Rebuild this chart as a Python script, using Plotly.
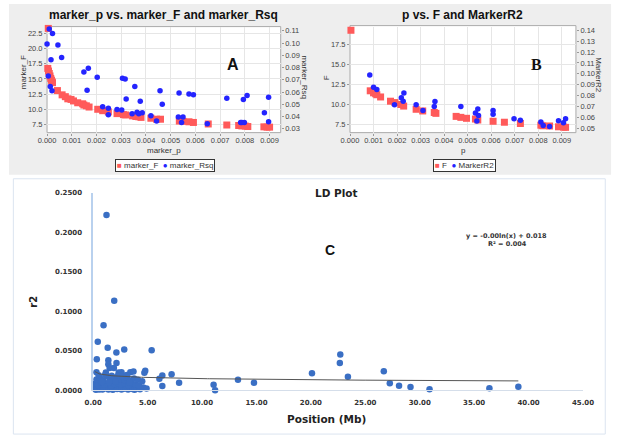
import plotly.graph_objects as go
import numpy as np

W, H = 624, 442


def fx(x):
    return x / W


def fy(y):
    return 1 - y / H


# ---------------- Panel A data ----------------
A_F_P = [0.00005, 0.00003, 0.00006, 0.00009, 0.00012, 0.00015, 0.00018, 0.0002, 0.00022,
         0.00042, 0.00061, 0.00074, 0.00084, 0.00097, 0.00107, 0.00124, 0.00144, 0.00149,
         0.00159, 0.0017, 0.00205, 0.00225, 0.00248, 0.00283, 0.00309, 0.00318, 0.00346,
         0.00359, 0.00371, 0.0038, 0.0042, 0.00443, 0.00459, 0.00535, 0.0055, 0.00574,
         0.00592, 0.00652, 0.00727, 0.00775, 0.00788, 0.00802, 0.00812, 0.00877, 0.0089, 0.009]
A_F = [23.3, 16.74, 16.3, 15.9, 15.5, 15.1, 14.8, 14.55, 14.4,
       13.1, 12.4, 12.1, 11.75, 11.65, 11.4, 11.1, 10.93, 10.73,
       10.6, 10.4, 10.03, 9.8, 9.6, 9.32, 9.16, 9.1, 8.95,
       8.85, 8.8, 8.7, 8.56, 8.4, 8.4, 8.1, 8.05, 7.98,
       7.87, 7.62, 7.45, 7.37, 7.3, 7.27, 7.2, 7.15, 7.1, 7.1]
A_R_P = [0.0, 0.00009, 0.00022, 0.00016, 0.00044, 0.00059, 0.00013, 0.0002, 0.00005,
         0.00149, 0.00167, 0.00162, 0.00203, 0.00305, 0.00316, 0.00355, 0.0032, 0.00377,
         0.00225, 0.00248, 0.00248, 0.00283, 0.00302, 0.00344, 0.00364, 0.00371, 0.00385,
         0.0042, 0.00443, 0.00457, 0.00466, 0.00534, 0.00531, 0.0055, 0.00544, 0.00574,
         0.00592, 0.00648, 0.00727, 0.00783, 0.00788, 0.00798, 0.00794, 0.00809, 0.00879,
         0.00896, 0.00896]
A_RSQ = [0.0992, 0.1116, 0.1078, 0.0864, 0.0984, 0.0883, 0.0645, 0.061, 0.0731,
         0.0763, 0.0795, 0.0615, 0.072, 0.0712, 0.0707, 0.0645, 0.0543, 0.0525,
         0.0479, 0.0468, 0.0415, 0.0458, 0.0453, 0.0423, 0.0435, 0.0423, 0.043,
         0.0406, 0.0364, 0.061, 0.05, 0.0591, 0.0396, 0.0396, 0.0351, 0.0583,
         0.0578, 0.034, 0.0549, 0.0351, 0.035, 0.035, 0.0538, 0.0571, 0.0431,
         0.0557, 0.0356]

# ---------------- Panel B data ----------------
B_F_P = [0.00004, 0.00086, 0.001, 0.00109, 0.00114, 0.0013, 0.00172, 0.00191, 0.00216,
         0.00228, 0.00281, 0.00309, 0.00358, 0.00365, 0.00451, 0.00471, 0.00495, 0.00533,
         0.00543, 0.00608, 0.00656, 0.00724, 0.00811, 0.00819, 0.00848, 0.00886, 0.00907,
         0.00916]
B_F = [19.24, 11.67, 11.42, 11.3, 11.18, 10.9, 10.37, 10.2, 9.96,
       9.76, 9.36, 9.15, 8.96, 8.85, 8.47, 8.35, 8.23, 8.14,
       8.02, 7.86, 7.74, 7.58, 7.37, 7.3, 7.27, 7.17, 7.13,
       7.1]
B_R_P = [0.00084, 0.001, 0.00114, 0.00218, 0.00226, 0.00229, 0.00189, 0.00281, 0.00361,
         0.00358, 0.0031, 0.00471, 0.00533, 0.00543, 0.00546, 0.00539, 0.00608, 0.00608,
         0.00697, 0.00724, 0.00811, 0.00821, 0.00848, 0.00886, 0.00907, 0.00916]
B_R2 = [0.099, 0.0878, 0.0856, 0.0782, 0.0749, 0.0824, 0.0717, 0.0717, 0.0747,
        0.0702, 0.0664, 0.0702, 0.0642, 0.0678, 0.0619, 0.0568, 0.0664, 0.063,
        0.0589, 0.0575, 0.056, 0.0527, 0.0518, 0.0571, 0.0553, 0.059]

# ---------------- Panel C data ----------------
C_POS = [1.22, 1.93, 0.95, 0.42, 1.33, 2.85, 2.13, 5.37, 0.33, 1.39, 2.14, 1.39, 1.51, 1.9,
         4.78, 4.7, 3.41, 3.7, 2.6, 2.34, 1.16, 0.3, 6.35, 7.2, 6.08, 6.35, 7.89, 11.06,
         11.2, 13.3, 14.77, 20.1, 22.7, 22.66, 23.4, 26.7, 27.25, 28.1, 29.15, 30.9, 36.4,
         39.06,
         0.15, 0.25, 0.4, 0.55, 0.7, 0.85, 1.0, 1.2, 1.4, 1.6, 1.8, 2.0, 2.2, 2.4, 2.6, 2.8,
         3.0, 3.2, 3.4, 3.6, 3.8, 4.0, 4.3, 4.6, 4.9,
         0.2, 0.45, 0.75, 1.05, 1.35, 1.65, 1.95, 2.25, 2.55, 2.9, 3.25, 3.55, 3.9, 4.2,
         0.3, 0.6, 0.9, 1.25, 1.55, 1.85, 2.15, 2.5, 2.85, 3.15, 3.45, 3.75, 4.1, 4.5,
         0.5, 1.1, 1.7, 2.3, 2.7, 3.1, 0.8, 1.45, 2.05, 3.35]
C_R2 = [0.2218, 0.1132, 0.0821, 0.0613, 0.0539, 0.0514, 0.0477, 0.0505, 0.0393, 0.038,
        0.0343, 0.033, 0.028, 0.028, 0.0245, 0.0222, 0.0228, 0.0236, 0.0228, 0.0225,
        0.0224, 0.0228, 0.0186, 0.0203, 0.0145, 0.0053, 0.0095, 0.007, 0.0, 0.0132,
        0.0095, 0.0215, 0.0451, 0.0344, 0.017, 0.024, 0.0087, 0.0057, 0.0041, 0.0012,
        0.0025, 0.0045,
        0.002, 0.0005, 0.003, 0.001, 0.0025, 0.0008, 0.002, 0.0035, 0.001, 0.0022, 0.0005,
        0.003, 0.0015, 0.0028, 0.0008, 0.0018, 0.0032, 0.001, 0.0025, 0.0015, 0.0005,
        0.0022, 0.0012, 0.0035, 0.002,
        0.008, 0.0065, 0.0095, 0.007, 0.0088, 0.006, 0.0078, 0.0092, 0.0068, 0.0085,
        0.0062, 0.009, 0.0072, 0.0058,
        0.0135, 0.016, 0.0125, 0.0172, 0.0145, 0.0118, 0.0165, 0.014, 0.0128, 0.0158,
        0.012, 0.0148, 0.0132, 0.0112,
        0.019, 0.0195, 0.0182, 0.0188, 0.0178, 0.0192, 0.0105, 0.0102, 0.0108, 0.0098]

# logarithmic trendline fitted to the data (Excel-style)
_x = np.array(C_POS)
_y = np.array(C_R2)
_m = _x > 0
TREND_A, TREND_B = np.polyfit(np.log(_x[_m]), _y[_m], 1)
trend_x = np.linspace(min(_x[_m]), max(_x[_m]), 200)
trend_y = TREND_A * np.log(trend_x) + TREND_B

RED = "#ff5a5a"
BLUE = "#2424ff"
CBLUE = "#3a6fc4"

fig = go.Figure()

# Panel A
fig.add_trace(go.Scatter(x=A_R_P, y=A_RSQ, mode="markers", xaxis="x", yaxis="y2",
                         marker=dict(symbol="circle", size=5.5, color=BLUE),
                         showlegend=False, cliponaxis=False))
fig.add_trace(go.Scatter(x=A_F_P, y=A_F, mode="markers", xaxis="x", yaxis="y",
                         marker=dict(symbol="square", size=7, color=RED),
                         showlegend=False, cliponaxis=False))
# Panel B
fig.add_trace(go.Scatter(x=B_R_P, y=B_R2, mode="markers", xaxis="x2", yaxis="y4",
                         marker=dict(symbol="circle", size=5.5, color=BLUE),
                         showlegend=False, cliponaxis=False))
fig.add_trace(go.Scatter(x=B_F_P, y=B_F, mode="markers", xaxis="x2", yaxis="y3",
                         marker=dict(symbol="square", size=7, color=RED),
                         showlegend=False, cliponaxis=False))
# Panel C
fig.add_trace(go.Scatter(x=C_POS, y=C_R2, mode="markers", xaxis="x3", yaxis="y5",
                         marker=dict(symbol="circle", size=6.5, color=CBLUE),
                         showlegend=False, cliponaxis=False))
fig.add_trace(go.Scatter(x=trend_x, y=trend_y, mode="lines", xaxis="x3", yaxis="y5",
                         line=dict(color="#555555", width=1),
                         showlegend=False))

tickA = dict(family="Liberation Sans, Arial, sans-serif", size=7.5, color="#444444")
common_y = dict(showgrid=True, gridcolor="#e6e6e6", gridwidth=1, zeroline=False,
                showline=False, ticks="outside", ticklen=2, tickcolor="#999999",
                tickfont=tickA)
common_x = dict(common_y, ticklabelstandoff=-2)

yA_dom = [fy(131), fy(23)]

fig.update_layout(
    width=W, height=H, autosize=False,
    margin=dict(l=0, r=0, t=0, b=0),
    paper_bgcolor="white", plot_bgcolor="white",
    showlegend=False,
    xaxis=dict(domain=[fx(39.3), fx(280.7)], range=[0, 0.00945], anchor="y",
               dtick=0.001, tick0=0, tickformat=".3f", **common_x),
    yaxis=dict(domain=yA_dom, range=[6.2, 23.6], anchor="x", dtick=2.5, tick0=0,
               tickformat=".1f", **common_y),
    yaxis2=dict(overlaying="y", side="right", anchor="x", range=[0.0268, 0.1135],
                dtick=0.01, tick0=0, tickformat=".2f", showgrid=False, zeroline=False,
                ticks="outside", ticklen=2, tickcolor="#999999", tickfont=tickA),
    xaxis2=dict(domain=[fx(352.3), fx(585.7)], range=[0, 0.0096], anchor="y3",
                dtick=0.001, tick0=0, tickformat=".3f", **common_x),
    yaxis3=dict(domain=yA_dom, range=[6.44, 19.7], anchor="x2", dtick=2.5, tick0=0,
                tickformat=".1f", **common_y),
    yaxis4=dict(overlaying="y3", side="right", anchor="x2", range=[0.0462, 0.1433],
                dtick=0.01, tick0=0, tickformat=".2f", showgrid=False, zeroline=False,
                ticks="outside", ticklen=2, tickcolor="#999999", tickfont=tickA),
    xaxis3=dict(domain=[fx(87), fx(593)], range=[0, 45], anchor="y5", dtick=5, tick0=0,
                tickformat=".2f", showgrid=False, zeroline=False, showline=True,
                linecolor="#d5deea", linewidth=1, ticks="", ticklabelstandoff=5,
                tickfont=dict(family="DejaVu Sans", size=7, color="#333333", weight="bold")),
    yaxis5=dict(domain=[fy(393.3), fy(192.3)], range=[0, 0.25], anchor="x3", dtick=0.05,
                tick0=0, tickformat=".4f", showgrid=False, zeroline=False, showline=True,
                linecolor="#b9d1ee", linewidth=1.5, ticks="", ticklabelstandoff=8,
                tickfont=dict(family="DejaVu Sans", size=7, color="#333333", weight="bold")),
)

shapes = [
    dict(type="rect", xref="paper", yref="paper", x0=0, x1=fx(622), y0=fy(174), y1=1,
         fillcolor="#eeeeee", line=dict(width=0), layer="below"),
    dict(type="rect", xref="paper", yref="paper", x0=fx(39.3), x1=fx(280.7), y0=fy(131),
         y1=fy(23), fillcolor="white", line=dict(color="#aaaaaa", width=1), layer="below"),
    dict(type="rect", xref="paper", yref="paper", x0=fx(352.3), x1=fx(585.7), y0=fy(131),
         y1=fy(22), fillcolor="white", line=dict(color="#aaaaaa", width=1), layer="below"),
    dict(type="rect", xref="paper", yref="paper", x0=fx(4.5), x1=fx(616), y0=fy(438),
         y1=fy(178), fillcolor="rgba(0,0,0,0)", line=dict(color="#dbe4f0", width=1),
         layer="below"),
]
fig.update_layout(shapes=shapes)

SANS = "Liberation Sans, Arial, sans-serif"
anns = []


def ann(x, y, text, size, family=SANS, color="#222222", bold=False, angle=0, **kw):
    d = dict(x=fx(x), y=fy(y), xref="paper", yref="paper", text=text, showarrow=False,
             textangle=angle, xanchor="center", yanchor="middle",
             font=dict(family=family, size=size, color=color,
                       weight="bold" if bold else "normal"))
    d.update(kw)
    anns.append(d)


# Panel A texts
ann(160, 11, "marker_p vs. marker_F and marker_Rsq", 12, bold=True, color="#111111")
ann(15, 70, "marker_F", 8, angle=-90, color="#333333")
ann(160, 149, "marker_p", 8, color="#333333")
ann(305, 75, "marker_Rsq", 8, angle=90, color="#333333")
ann(231, 62, "A", 16, bold=True, color="#111111")
ann(161, 164.5,
    "<span style='color:%s'>■</span> marker_F  <span style='color:%s'>●</span> marker_Rsq" % (RED, BLUE),
    8, color="#333333", bgcolor="white", bordercolor="#333333", borderwidth=1, borderpad=1)

# Panel B texts
ann(468, 11, "p vs. F and MarkerR2", 12, bold=True, color="#111111")
ann(328, 75, "F", 8, angle=-90, color="#333333")
ann(470, 149, "p", 8, color="#333333")
ann(609, 73, "MarkerR2", 8, angle=90, color="#333333")
ann(545, 62, "B", 16, family="Liberation Serif, Times New Roman, serif", bold=True,
    color="#111111")
ann(471, 164.5,
    "<span style='color:%s'>■</span> F  <span style='color:%s'>●</span> MarkerR2" % (RED, BLUE),
    8, color="#333333", bgcolor="white", bordercolor="#333333", borderwidth=1, borderpad=1)

# Panel C texts
ann(338, 192, "LD Plot", 10.5, family="DejaVu Sans", bold=True, color="#222222")
ann(332, 251, "C", 14, bold=True, color="#111111")
ann(514, 236.7, "y = -0.00ln(x) + 0.018", 6.5, family="DejaVu Sans", bold=True,
    color="#333333")
ann(515, 244.3, "R² = 0.004", 6.5, family="DejaVu Sans", bold=True, color="#333333")
ann(25, 303, "r2", 10, family="DejaVu Sans", bold=True, angle=-90, color="#222222")
ann(328, 423, "Position (Mb)", 10.5, family="DejaVu Sans", bold=True, color="#222222")

fig.update_layout(annotations=anns)

fig.write_html(
    "out.html",
    config={"displayModeBar": False},
    post_script="document.body.style.margin='0';document.body.style.padding='0';"
                "document.body.style.overflow='hidden';",
)
